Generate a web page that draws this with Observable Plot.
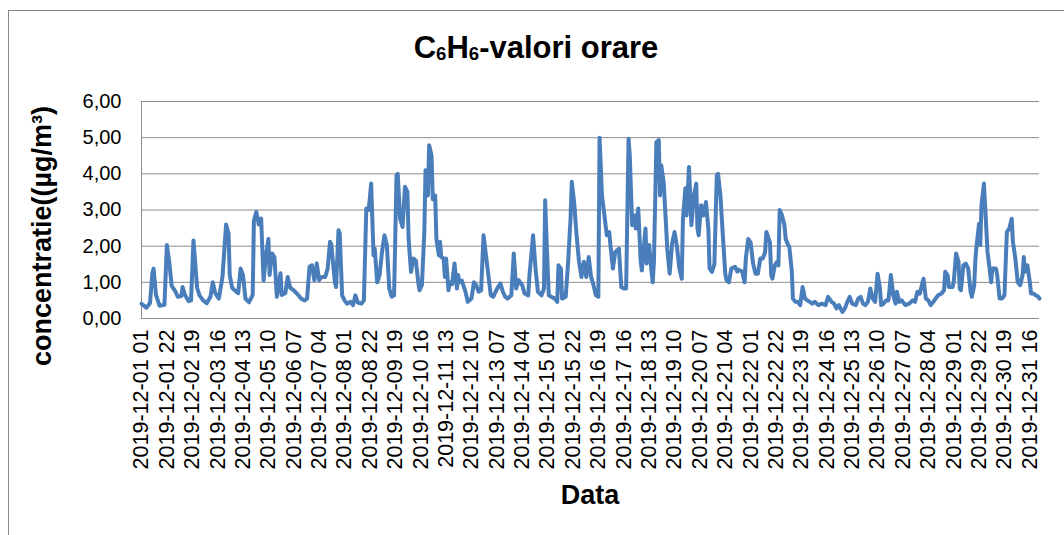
<!DOCTYPE html>
<html>
<head>
<meta charset="utf-8">
<script src="https://cdn.jsdelivr.net/npm/d3@7"></script>
<script src="https://cdn.jsdelivr.net/npm/@observablehq/plot@0.6"></script>
<style>
  html, body { margin: 0; padding: 0; background: #fff; overflow: hidden; }
  #wrap { position: relative; width: 1064px; height: 535px; overflow: hidden; font-family: "Liberation Sans", Arial, sans-serif; color: #000; }
  #frame { position: absolute; left: 8px; top: 10px; width: 1100px; height: 600px; border: 1.5px solid #8a8a8a; box-sizing: border-box; }
  #title { position: absolute; left: 0; width: 1072px; top: 30px; text-align: center; font-weight: bold; font-size: 31px; }
  #title sub { font-size: 0.6em; vertical-align: -0.12em; }
  #ytitle { position: absolute; left: 42px; top: 236px; transform: translate(-50%, -50%) rotate(-90deg); white-space: nowrap; font-weight: bold; font-size: 27px; }
  #xtitle { position: absolute; left: 590px; top: 495px; transform: translate(-50%, -50%); font-weight: bold; font-size: 27px; }
  #chart { position: absolute; left: 0; top: 0; }
  #chart g[aria-label^="x-axis"] text { font-size: 21.5px; }
</style>
</head>
<body>
<div id="wrap">
  <div id="frame"></div>
  <div id="chart"></div>
  <div id="title">C<sub>6</sub>H<sub>6</sub>-valori orare</div>
  <div id="ytitle">concentratie((µg/m³)</div>
  <div id="xtitle">Data</div>
</div>
<script>
// hour index counted from 2019-12-01 01 (index 0) to 2019-12-31 24 (index 743)
const hourIndex = [0,4,7,9,10,12,15,19,21,23,25,28,30,33,34,36,39,41,43,46,48,51,54,57,59,61,64,67,70,72,73,75,78,80,82,84,86,89,92,93,95,97,99,101,103,105,106,108,110,112,115,116,119,121,123,126,130,132,135,137,139,141,143,145,147,149,152,154,156,157,160,161,163,164,166,168,170,173,175,177,179,182,184,186,188,190,192,193,195,197,199,201,203,205,207,209,211,212,214,216,218,220,221,223,225,227,229,230,232,234,235,237,238,240,241,243,244,246,247,248,250,251,252,254,255,257,259,261,262,263,265,268,270,273,275,277,279,281,283,285,287,289,291,293,295,297,299,301,303,306,308,310,312,315,317,320,321,324,326,328,331,333,334,335,337,339,342,344,345,347,348,351,353,355,356,358,360,362,364,366,368,370,372,374,376,378,379,381,383,385,387,388,390,392,395,397,399,401,403,404,406,408,409,411,413,414,417,418,420,422,423,424,426,428,429,430,432,434,435,437,439,441,443,445,447,448,450,451,453,455,457,459,460,461,463,465,467,469,470,472,474,476,477,479,481,483,484,486,488,491,493,494,497,499,500,502,504,506,508,510,512,514,516,517,518,520,521,522,524,526,527,528,530,532,533,535,536,538,539,541,543,545,547,549,551,553,555,557,560,563,566,568,571,573,575,577,580,582,584,586,588,591,593,595,597,599,601,603,605,607,609,611,612,614,616,618,620,622,624,625,627,629,632,635,638,640,642,644,647,649,651,653,656,659,662,664,665,667,668,671,672,674,676,677,678,680,682,684,686,687,689,690,691,693,694,695,697,698,700,701,703,704,707,708,710,712,714,716,718,720,721,723,725,727,729,730,731,733,735,736,738,740,742,743];

const concentration = [0.41,0.30,0.42,1.25,1.38,0.65,0.35,0.38,2.03,1.55,0.90,0.75,0.60,0.62,0.87,0.65,0.48,0.50,2.16,0.85,0.64,0.50,0.42,0.60,1.00,0.70,0.55,1.15,2.60,2.35,1.20,0.85,0.75,0.70,1.38,1.20,0.55,0.45,0.65,2.70,2.95,2.60,2.76,1.05,1.75,2.20,1.20,1.80,1.70,0.60,1.25,0.65,0.70,1.15,0.85,0.78,0.64,0.55,0.50,0.55,1.43,1.47,1.06,1.52,1.06,1.15,1.15,1.38,2.12,2.05,1.00,0.87,2.44,2.35,0.64,0.50,0.41,0.46,0.37,0.64,0.44,0.41,0.50,3.04,3.00,3.73,1.75,1.93,1.00,1.20,1.84,2.30,2.03,0.83,0.60,0.64,3.96,4.00,2.76,2.53,3.64,3.50,2.20,1.29,1.66,1.60,1.00,0.78,0.92,2.39,4.10,3.40,4.79,4.50,3.30,3.40,2.20,1.75,2.12,1.70,1.66,1.15,1.66,0.78,1.00,0.95,1.52,0.83,1.20,1.00,1.05,0.74,0.46,0.55,1.00,0.92,0.74,0.78,2.30,1.75,1.20,0.64,0.60,0.74,0.87,0.97,0.74,0.60,0.55,0.64,1.80,0.83,1.06,0.92,0.69,0.64,1.20,2.30,1.38,0.74,0.64,0.83,3.27,2.30,0.64,0.60,0.55,0.46,1.47,1.38,0.55,0.60,1.57,2.76,3.78,3.20,2.30,1.57,1.15,1.57,1.15,1.70,1.15,0.92,0.64,0.60,5.00,3.40,2.85,2.30,2.39,2.03,1.38,1.84,1.93,0.87,0.83,0.83,4.97,4.50,2.58,2.85,2.49,3.04,1.61,1.33,2.49,1.52,2.03,1.29,1.00,1.57,4.88,4.93,3.40,4.24,3.78,2.58,1.93,1.24,2.07,2.39,2.00,1.38,1.10,2.76,3.60,2.85,4.19,2.58,3.40,3.73,2.49,2.30,3.13,2.85,3.22,2.49,1.38,1.29,1.50,3.96,4.00,3.40,2.30,1.24,1.06,1.00,1.38,1.43,1.30,1.35,1.30,1.00,1.66,2.20,2.10,1.52,1.24,1.24,1.66,1.66,1.84,2.39,2.30,2.10,1.20,1.10,1.47,1.57,1.47,3.00,2.85,2.58,2.20,2.03,1.98,1.33,0.55,0.46,0.46,0.37,0.87,0.55,0.50,0.46,0.41,0.46,0.37,0.41,0.37,0.60,0.46,0.41,0.28,0.37,0.18,0.28,0.46,0.60,0.41,0.37,0.55,0.60,0.41,0.37,0.46,0.83,0.55,0.46,1.24,0.83,0.37,0.41,0.50,0.50,1.20,0.64,0.41,0.74,0.46,0.50,0.37,0.41,0.50,0.46,0.74,0.69,1.10,0.55,0.50,0.37,0.50,0.64,0.69,0.78,1.29,1.20,0.87,0.87,1.00,1.80,1.57,0.83,0.78,1.47,1.52,1.38,0.74,0.60,0.92,1.66,2.03,2.62,2.03,3.13,3.73,3.13,1.84,1.57,1.00,1.38,1.38,1.20,0.55,0.55,0.64,2.39,2.49,2.76,2.12,1.66,1.00,0.92,1.20,1.70,1.29,1.47,1.00,0.69,0.69,0.64,0.60,0.55];

const tickLabels = ["2019-12-01 01","2019-12-01 22","2019-12-02 19","2019-12-03 16","2019-12-04 13","2019-12-05 10","2019-12-06 07","2019-12-07 04","2019-12-08 01","2019-12-08 22","2019-12-09 19","2019-12-10 16","2019-12-11 13","2019-12-12 10","2019-12-13 07","2019-12-14 04","2019-12-15 01","2019-12-15 22","2019-12-16 19","2019-12-17 16","2019-12-18 13","2019-12-19 10","2019-12-20 07","2019-12-21 04","2019-12-22 01","2019-12-22 22","2019-12-23 19","2019-12-24 16","2019-12-25 13","2019-12-26 10","2019-12-27 07","2019-12-28 04","2019-12-29 01","2019-12-29 22","2019-12-30 19","2019-12-31 16"];

const yTicks = [0, 1, 2, 3, 4, 5, 6];

const data = hourIndex.map((h, i) => ({h, v: concentration[i]}));
const labelHour = s => (+s.slice(8, 10) - 1) * 24 + (+s.slice(11, 13) - 1);
const tickHours = tickLabels.map(labelHour);
const labelByHour = new Map(tickLabels.map(s => [labelHour(s), s]));

const chart = Plot.plot({
  width: 1064,
  height: 535,
  marginLeft: 141,
  marginRight: 25,
  marginTop: 101,
  marginBottom: 217,
  style: {fontFamily: '"Liberation Sans", Arial, sans-serif', fontSize: "20px", color: "#000", background: "transparent", overflow: "visible"},
  x: {domain: [0, 743], ticks: tickHours, tickFormat: h => labelByHour.get(h), tickRotate: -90, tickSize: 0, tickPadding: 11, label: null},
  y: {domain: [0, 6], ticks: yTicks, tickFormat: d => d.toFixed(2).replace(".", ","), tickSize: 0, tickPadding: 20, label: null},
  marks: [
    Plot.ruleY(yTicks, {stroke: "#8c8c8c", strokeWidth: 1}),
    Plot.ruleX([0], {stroke: "#8c8c8c", strokeWidth: 1}),
    Plot.line(data, {x: "h", y: "v", stroke: "#4a7ebb", strokeWidth: 4, strokeLinejoin: "round", strokeLinecap: "round"})
  ]
});
document.getElementById("chart").appendChild(chart);
</script>
</body>
</html>
